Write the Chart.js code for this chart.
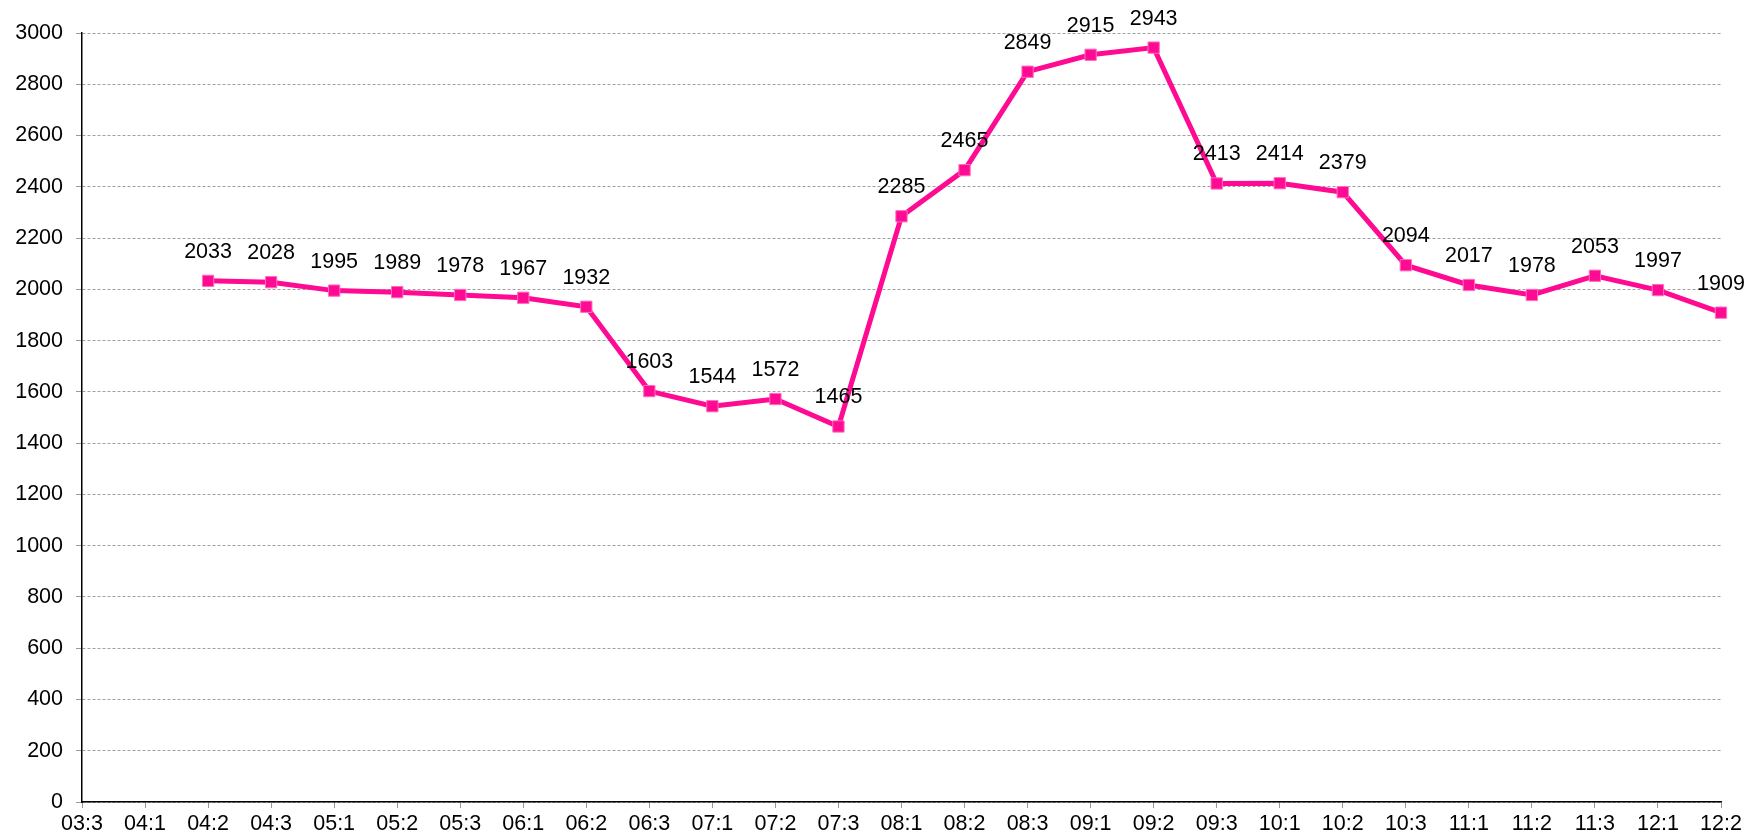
<!DOCTYPE html>
<html>
<head>
<meta charset="utf-8">
<script src="https://cdn.jsdelivr.net/npm/chart.js@4/dist/chart.umd.min.js"></script>
<style>
  html, body { margin: 0; padding: 0; background: #fff; }
  #wrap { width: 1758px; height: 839px; position: relative; }
</style>
</head>
<body>
<div id="wrap"><canvas id="timeChart"></canvas></div>
<script>
// categories (time slots) and values
const labels = ['03:3', '04:1', '04:2', '04:3', '05:1', '05:2', '05:3', '06:1', '06:2',
  '06:3', '07:1', '07:2', '07:3', '08:1', '08:2', '08:3', '09:1', '09:2', '09:3',
  '10:1', '10:2', '10:3', '11:1', '11:2', '11:3', '12:1', '12:2'];
const values = [null, null, 2033, 2028, 1995, 1989, 1978, 1967, 1932,
  1603, 1544, 1572, 1465, 2285, 2465, 2849, 2915, 2943, 2413,
  2414, 2379, 2094, 2017, 1978, 2053, 1997, 1909];
const yTicks = { min: 0, max: 3000, step: 200 };

const pink = '#FF0A93';
const font = { family: '"Liberation Sans", Arial, sans-serif', size: 21.5 };

// simple value labels above each point
const pointLabels = {
  id: 'pointLabels',
  afterDatasetsDraw(chart) {
    const ctx = chart.ctx;
    const meta = chart.getDatasetMeta(0);
    ctx.save();
    ctx.font = font.size + 'px ' + font.family;
    ctx.fillStyle = '#000';
    ctx.textAlign = 'center';
    ctx.textBaseline = 'alphabetic';
    meta.data.forEach((pt, i) => {
      const v = values[i];
      if (v == null) return;
      ctx.fillText(String(v), pt.x, pt.y - 23);
    });
    ctx.restore();
  }
};

new Chart(document.getElementById('timeChart'), {
  type: 'line',
  data: {
    labels: labels,
    datasets: [{
      data: values,
      borderColor: pink,
      backgroundColor: pink,
      borderWidth: 5,
      pointStyle: 'rect',
      pointRadius: 8,
      pointBorderWidth: 1,
      pointBorderColor: '#ff6fbf',
      pointBackgroundColor: pink,
      tension: 0,
      spanGaps: false
    }]
  },
  options: {
    responsive: true,
    maintainAspectRatio: false,
    animation: false,
    layout: { padding: { left: 0, right: 37, top: 33, bottom: 0 } },
    plugins: {
      legend: { display: false },
      tooltip: { enabled: false }
    },
    scales: {
      x: {
        offset: false,
        grid: {
          drawOnChartArea: false,
          drawTicks: true,
          tickLength: 6,
          tickColor: '#999',
          tickWidth: 1
        },
        border: { display: true, color: '#000', width: 1.5 },
        ticks: {
          color: '#000',
          font: font,
          padding: 3,
          maxRotation: 0,
          autoSkip: false
        },
        afterFit(scale) { scale.height = 37; }
      },
      y: {
        min: yTicks.min,
        max: yTicks.max,
        grid: {
          color: '#a0a0a0',
          lineWidth: 1,
          tickLength: 6,
          tickColor: '#999'
        },
        border: { display: true, color: '#000', width: 1.5, dash: [3, 2] },
        ticks: {
          stepSize: yTicks.step,
          color: '#000',
          font: font,
          padding: 13,
          callback: (v) => String(v)
        },
        afterFit(scale) { scale.width = 82; }
      }
    }
  },
  plugins: [pointLabels]
});
</script>
</body>
</html>
